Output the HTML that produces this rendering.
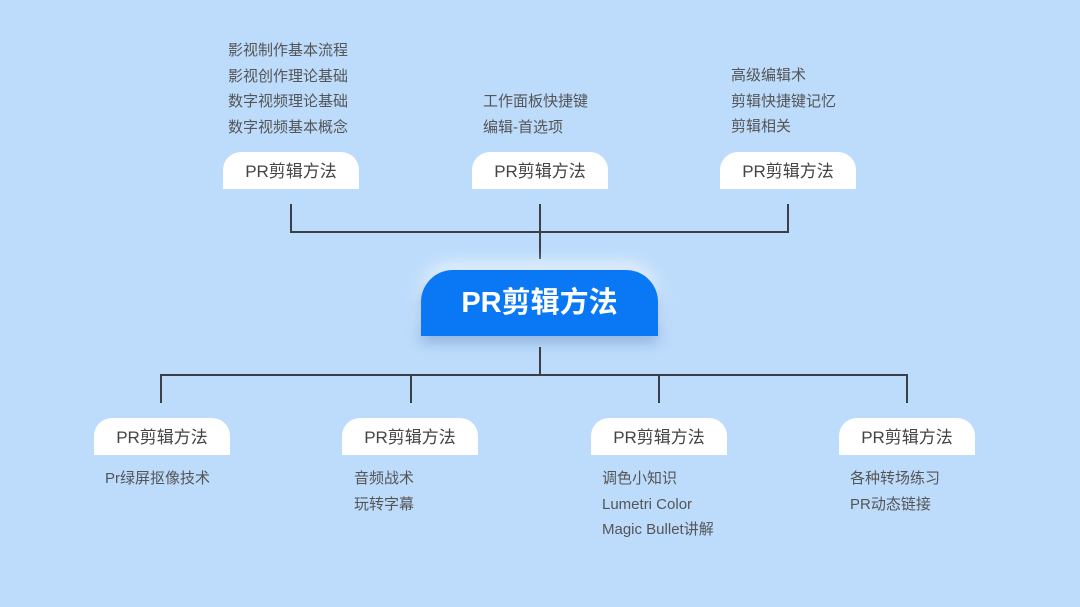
<!DOCTYPE html>
<html><head><meta charset="utf-8"><style>
body{margin:0;width:1080px;height:607px;background:#bddcfc;position:relative;overflow:hidden;font-family:"Liberation Sans","Noto Sans CJK SC",sans-serif}
.b{position:absolute;width:136px;height:37px;background:#fff;border-radius:18px 18px 0 0;color:#444;font-size:17px;text-align:center;line-height:39px}
.c{position:absolute;left:421px;top:270px;width:237px;height:66px;background:#0a78f5;border-radius:32px 32px 0 0;color:#fff;font-size:29px;font-weight:bold;text-align:center;line-height:66px;box-shadow:0 6px 14px rgba(40,90,160,.35),0 -6px 16px rgba(255,255,255,.8)}
.t{position:absolute;color:#555;font-size:15px;line-height:25.5px}
.l{position:absolute;background:#3a3f48}
</style></head><body>
<div class="l" style="left:290px;top:204px;width:2px;height:29px"></div>
<div class="l" style="left:539px;top:204px;width:2px;height:55px"></div>
<div class="l" style="left:787px;top:204px;width:2px;height:29px"></div>
<div class="l" style="left:290px;top:231px;width:499px;height:2px"></div>
<div class="l" style="left:539px;top:347px;width:2px;height:28px"></div>
<div class="l" style="left:160px;top:374px;width:748px;height:2px"></div>
<div class="l" style="left:160px;top:374px;width:2px;height:29px"></div>
<div class="l" style="left:410px;top:374px;width:2px;height:29px"></div>
<div class="l" style="left:658px;top:374px;width:2px;height:29px"></div>
<div class="l" style="left:906px;top:374px;width:2px;height:29px"></div>

<div class="t" style="left:228px;top:38px">影视制作基本流程<br>影视创作理论基础<br>数字视频理论基础<br>数字视频基本概念</div>
<div class="t" style="left:483px;top:89px">工作面板快捷键<br>编辑-首选项</div>
<div class="t" style="left:731px;top:63px">高级编辑术<br>剪辑快捷键记忆<br>剪辑相关</div>

<div class="b" style="left:223px;top:152px">PR剪辑方法</div>
<div class="b" style="left:472px;top:152px">PR剪辑方法</div>
<div class="b" style="left:720px;top:152px">PR剪辑方法</div>

<div class="c">PR剪辑方法</div>

<div class="b" style="left:94px;top:418px">PR剪辑方法</div>
<div class="b" style="left:342px;top:418px">PR剪辑方法</div>
<div class="b" style="left:591px;top:418px">PR剪辑方法</div>
<div class="b" style="left:839px;top:418px">PR剪辑方法</div>

<div class="t" style="left:105px;top:466px">Pr绿屏抠像技术</div>
<div class="t" style="left:354px;top:466px">音频战术<br>玩转字幕</div>
<div class="t" style="left:602px;top:466px">调色小知识<br>Lumetri Color<br>Magic Bullet讲解</div>
<div class="t" style="left:850px;top:466px">各种转场练习<br>PR动态链接</div>
</body></html>
